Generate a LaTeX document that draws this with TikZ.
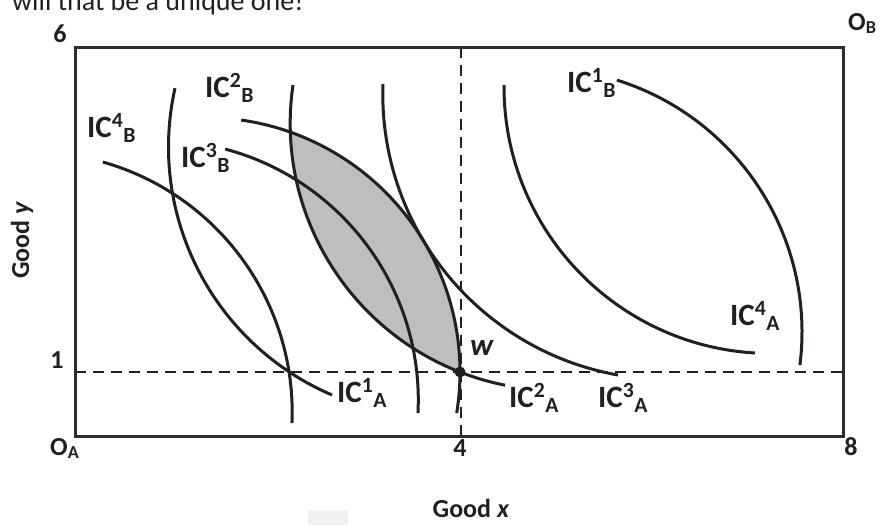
\documentclass[tikz,border=0pt]{standalone}
\usepackage{fontspec}
\setmainfont{Carlito}
\usetikzlibrary{positioning}
\definecolor{inkblack}{RGB}{35,31,32}
\definecolor{framegray}{RGB}{45,45,45}
\definecolor{lensgray}{RGB}{188,190,192}
\definecolor{smudge}{RGB}{240,240,240}
\newcommand{\icl}[2]{IC\textsuperscript{#1}\textsubscript{#2}}
\tikzset{
  icurve/.style={draw=inkblack,line width=3pt},
  frame/.style={draw=framegray,line width=3pt},
  guide/.style={draw=inkblack,line width=2.4pt,dash pattern=on 11pt off 7pt},
  lensfill/.style={fill=lensgray},
  iclabel/.style={anchor=base west,inner sep=0pt,font=\fontsize{31}{31}\selectfont\bfseries,text=inkblack},
  axlabel/.style={inner sep=0pt,font=\fontsize{26}{26}\selectfont\bfseries,text=inkblack}
}

\begin{document}
\begin{tikzpicture}[x=1pt,y=-1pt]
  \useasboundingbox (0,0) rectangle (886,525);
  % centres of the indifference curves
  \coordinate (cA1) at (438.3,147.0);
  \coordinate (cA2) at (557.0,123.5);
  \coordinate (cA3) at (668.3,94.0);
  \coordinate (cA4) at (770.9,86.6);
  \coordinate (cB1) at (538,332);
  \coordinate (cB2) at (205.3,372.2);
  \coordinate (cB3) at (158.3,400.3);
  \coordinate (cB4) at (32.1,412.3);
  \coordinate (W) at (460,372);

  % lens between IC2_A and IC2_B
  \begin{scope}
    \clip (cA2) circle[radius=266.8];
    \fill[lensfill] (cB2) circle[radius=254.7];
  \end{scope}
  \fill[smudge] (308,510) rectangle (348,525);

  \draw[guide] (461,47) -- (461,436);
  \draw[guide] (75,372) -- (843,372);

  % A's curves
  \draw[icurve] (cA1) ++(192.6:269.8) arc[start angle=192.6,end angle=113.2,radius=269.8];
  \draw[icurve] (cA2) ++(188.3:266.8) arc[start angle=188.3,end angle=101.2,radius=266.8];
  \draw[icurve] (cA3) ++(182.0:285.5) arc[start angle=182.0,end angle=100.15,radius=285.5];
  \draw[icurve] (cA4) ++(180.3:266.9) arc[start angle=180.3,end angle=93.4,radius=266.9];
  % B's curves
  \draw[icurve] (cB1) ++(-72.6:264) arc[start angle=-72.6,end angle=7.2,radius=264];
  \draw[icurve] (cB2) ++(-81.9:254.7) arc[start angle=-81.9,end angle=9.2,radius=254.7];
  \draw[icurve] (cB3) ++(-75.1:260) arc[start angle=-75.1,end angle=2.8,radius=260];
  \draw[icurve] (cB4) ++(-74.2:260.1) arc[start angle=-74.2,end angle=2.4,radius=260.1];

  \draw[frame] (75,47) rectangle (843,436);
  \fill[inkblack] (W) circle[radius=5.5];

  \node[iclabel] (icB4) at (87,137) {\icl{4}{B}};
  \node[iclabel] (icB2) at (205,97) {\icl{2}{B}};
  \node[iclabel] (icB3) at (181,167) {\icl{3}{B}};
  \node[iclabel] (icB1) at (567,92) {\icl{1}{B}};
  \node[iclabel] (icA1) at (337,402) {\icl{1}{A}};
  \node[iclabel] (icA2) at (509,407) {\icl{2}{A}};
  \node[iclabel] (icA3) at (598,407) {\icl{3}{A}};
  \node[iclabel] (icA4) at (730,325) {\icl{4}{A}};
  \node[iclabel] (wlab) at (470,355) {\textit{w}};

  \node[axlabel] (ysix) at (60,34) {6};
  \node[axlabel] (yone) at (57,360) {1};
  \node[axlabel,anchor=base west] (oa) at (50,455) {O\textsubscript{A}};
  \node[axlabel] (xfour) at (460,448) {4};
  \node[axlabel] (xeight) at (851,447) {8};
  \node[axlabel,anchor=base west] (ob) at (848,30) {O\textsubscript{B}};
  \node[axlabel,rotate=90] (goody) at (22,240) {Good \textit{y}};
  \node[axlabel] (goodx) at (471,508) {Good \textit{x}};
  \node[anchor=base west,inner sep=0pt,font=\fontsize{28}{28}\selectfont,text=inkblack] (cuttext) at (12,10) {will that be a unique one!};
\end{tikzpicture}
\end{document}
